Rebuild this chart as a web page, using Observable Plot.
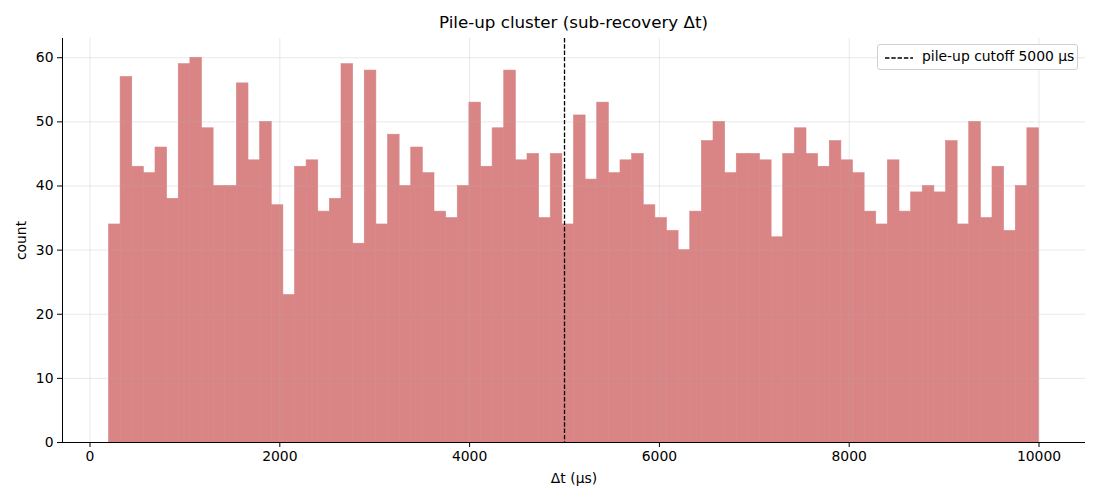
<!DOCTYPE html>
<html>
<head>
<meta charset="utf-8">
<script src="https://cdn.jsdelivr.net/npm/d3@7"></script>
<script src="https://cdn.jsdelivr.net/npm/@observablehq/plot@0.6"></script>
<style>
  body { margin: 0; background: #fff; font-family: "DejaVu Sans", sans-serif; }
  #wrap { position: relative; width: 1100px; height: 500px; }
  #title { position: absolute; left: 62px; width: 1023px; top: 12px; text-align: center; font-size: 16.7px; color: #000; }
  #chart { position: absolute; left: 0; top: 32px; }
  #legend { position: absolute; left: 877px; top: 44px; width: 199px; height: 24px; border: 1px solid #d0d0d0; border-radius: 3px; background: rgba(255,255,255,0.85); font-size: 13.9px; }
  #legend svg { position: absolute; left: 7px; top: 11px; }
  #legend span { position: absolute; left: 44px; top: 3px; white-space: nowrap; }
</style>
</head>
<body>
<div id="wrap">
  <div id="title">Pile-up cluster (sub-recovery Δt)</div>
  <div id="chart"></div>
  <div id="legend"><svg width="30" height="4"><line x1="0" y1="2" x2="28" y2="2" stroke="#000" stroke-width="1.3" stroke-dasharray="4.4,1.9"/></svg><span>pile-up cutoff 5000 μs</span></div>
</div>
<script>
const binStart = 200;
const binWidth = 122.5;
const counts = [
  34,57,43,42,46,38,59,60,49,40,
  40,56,44,50,37,23,43,44,36,38,
  59,31,58,34,48,40,46,42,36,35,
  40,53,43,49,58,44,45,35,45,34,
  51,41,53,42,44,45,37,35,33,30,
  36,47,50,42,45,45,44,32,45,49,
  45,43,47,44,42,36,34,44,36,39,
  40,39,47,34,50,35,43,33,40,49
];
const cutoff = [5000];
const xTicks = [0, 2000, 4000, 6000, 8000, 10000];
const yTicks = [0, 10, 20, 30, 40, 50, 60];
const xDomain = [-290, 10490];
const yDomain = [0, 63];

const bins = counts.map((c, i) => ({x1: binStart + i * binWidth, x2: binStart + (i + 1) * binWidth, count: c}));

const chart = Plot.plot({
  width: 1100,
  height: 468,
  marginLeft: 62,
  marginRight: 15,
  marginTop: 6,
  marginBottom: 58,
  style: {fontFamily: "DejaVu Sans", fontSize: "13.9px", color: "#000", background: "#fff"},
  x: {domain: xDomain},
  y: {domain: yDomain},
  marks: [
    Plot.rectY(bins, {x1: "x1", x2: "x2", y: "count", fill: "#d98585", stroke: "#d98585", strokeWidth: 0.6, inset: 0}),
    Plot.gridX(xTicks, {stroke: "#b0b0b0", strokeOpacity: 0.35, strokeWidth: 0.8}),
    Plot.gridY(yTicks, {stroke: "#b0b0b0", strokeOpacity: 0.35, strokeWidth: 0.8}),
    Plot.ruleX(cutoff, {stroke: "#000", strokeWidth: 1.3, strokeDasharray: "4.4,1.9"}),
    Plot.ruleX([xDomain[0]], {stroke: "#000", strokeWidth: 1}),
    Plot.ruleY([yDomain[0]], {stroke: "#000", strokeWidth: 1}),
    Plot.axisX(xTicks, {tickSize: 5, tickPadding: 4, fontSize: 13.9, tickFormat: d => String(d), label: "Δt (μs)", labelAnchor: "center", labelArrow: "none", labelOffset: 40}),
    Plot.axisY(yTicks, {tickSize: 5, tickPadding: 4, fontSize: 13.9, tickFormat: d => String(d), label: "count", labelAnchor: "center", labelArrow: "none", labelOffset: 46})
  ]
});
document.getElementById("chart").appendChild(chart);
</script>
</body>
</html>
